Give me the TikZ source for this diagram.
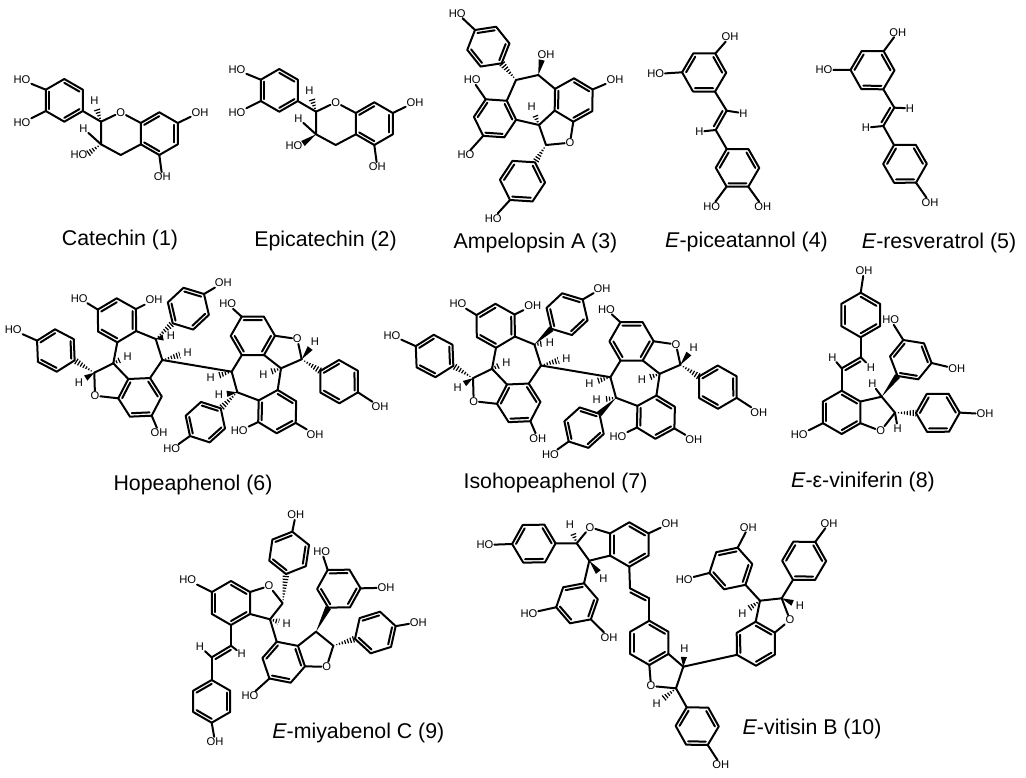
\documentclass[tikz,border=0pt]{standalone}
\usepackage{fontspec}
\setmainfont{Liberation Sans}
\usetikzlibrary{calc}

\tikzset{
    bond/.style={line width=1.5pt, line cap=round, line join=round},
    atom/.style={inner sep=0.5pt, font=\fontsize{8.4}{9}\selectfont},
    molname/.style={inner sep=0pt, yshift=-1pt, font=\fontsize{16}{18}\selectfont}
}

\newcommand{\ringsix}[4]{
    \coordinate (#1v1) at (#2);
    \coordinate (#1v4) at (#3);
    \coordinate (#1c) at ($(#1v1)!.5!(#1v4)$);
    \foreach \k in {2,3,5,6} {
        \pgfmathtruncatemacro{\ang}{(\k-1)*60}
        \coordinate (#1v\k) at ($(#1c)!1!\ang:(#1v1)$);
    }
    \draw[bond] (#1v1) -- (#1v2) -- (#1v3) -- (#1v4) -- (#1v5) -- (#1v6) -- cycle;
    \foreach \e in {#4} {
        \pgfmathtruncatemacro{\nx}{mod(\e,6)+1}
        \draw[bond] ($(#1v\e)!.18!(#1c)$) -- ($(#1v\nx)!.18!(#1c)$);
    }
}
\newcommand{\wedgebond}[2]{
    \fill ($(#2)!2.3pt!90:(#1)$) -- (#1) -- ($(#2)!2.3pt!-90:(#1)$) -- cycle;
}
\newcommand{\hashbond}[2]{
    \begin{scope}
        \clip ($(#2)!2.6pt!90:(#1)$) -- (#1) -- ($(#2)!2.6pt!-90:(#1)$) -- cycle;
        \draw[line width=6pt, dash pattern=on 0.9pt off 1.3pt] (#1) -- (#2);
    \end{scope}
}
\newcommand{\vinyl}[2]{
    \draw[bond] (#1) -- (#2);
    \draw[bond] ($(#1)!.1!(#2)!2.6pt!90:(#2)$) -- ($(#2)!.1!(#1)!2.6pt!-90:(#1)$);
}
\newcommand{\plainlabel}[4]{
    \node[atom] (#1) at (#2) {#3};
    \draw[bond] (#4) -- (#1);
}
\newcommand{\wedgeH}[3]{
    \node[atom] (#1) at (#2) {H};
    \coordinate (#1t) at ($(#1)!6pt!(#3)$);
    \wedgebond{#3}{#1t}
}
\newcommand{\hashH}[3]{
    \node[atom] (#1) at (#2) {H};
    \coordinate (#1t) at ($(#1)!6pt!(#3)$);
    \hashbond{#3}{#1t}
}
\newcommand{\flavanskel}[1]{
    \ringsix{#1a}{64.3,79}{64.3,121.7}{2,4,6}
    \ringsix{#1b}{159.3,112.3}{159.3,155}{1,3,5}
    \coordinate (#1p) at (101,121.7);
    \coordinate (#1q) at (101,144.3);
    \coordinate (#1r) at (120.7,155);
    \node[atom] (#1o) at (120.7,112.3) {O};
    \draw[bond] (#1av5) -- (#1p) -- (#1q) -- (#1r) -- (#1bv3);
    \draw[bond] (#1p) -- (#1o) -- (#1bv2);
    \plainlabel{#1oh1}{22,80}{HO}{#1av2}
    \plainlabel{#1oh2}{22,123}{HO}{#1av3}
    \plainlabel{#1oh3}{200,112.3}{OH}{#1bv6}
    \plainlabel{#1oh4}{162.3,177}{OH}{#1bv4}
    \plainlabel{#1h1}{83.3,128.3}{H}{#1q}
    \hashH{#1h2}{94.3,101}{#1p}
}
\newcommand{\hopeaskel}[1]{
    \ringsix{#1a}{116.7,298.3}{117.3,342.3}{1,3,5}
    \ringsix{#1b}{204,294}{172.7,323.3}{1,3,5}
    \ringsix{#1c}{128.3,379}{151.7,415.7}{1,3,5}
    \ringsix{#1d}{55,329.3}{56.7,371.7}{1,3,5}
    \ringsix{#1e}{241.7,316.7}{264,355}{2,4,6}
    \ringsix{#1f}{339,360}{339.3,403.3}{1,3,5}
    \ringsix{#1g}{277.7,390}{276.7,433.3}{2,4,6}
    \ringsix{#1h}{220.7,408.3}{190,436}{1,3,5}
    \coordinate (#1p) at (155.7,339);
    \coordinate (#1q) at (162.3,360);
    \coordinate (#1r) at (113.3,363.3);
    \coordinate (#1s) at (94.3,372.7);
    \coordinate (#1t) at (231.7,371.7);
    \coordinate (#1u) at (237.3,392.3);
    \coordinate (#1w) at (301.7,359.3);
    \coordinate (#1y) at (281,368.3);
    \node[atom] (#1o1) at (95,395.7) {O};
    \node[atom] (#1o2) at (297.3,339) {O};
    \draw[bond] (#1av5) -- (#1p) -- (#1q) -- (#1cv6);
    \draw[bond] (#1q) -- (#1t) -- (#1u) -- (#1gv2);
    \draw[bond] (#1av4) -- (#1r) -- (#1cv1);
    \draw[bond] (#1r) -- (#1s) -- (#1o1) -- (#1cv2);
    \draw[bond] (#1t) -- (#1ev3);
    \draw[bond] (#1ev4) -- (#1y) -- (#1gv1);
    \draw[bond] (#1y) -- (#1w) -- (#1o2) -- (#1ev5);
    \hashbond{#1s}{#1dv5}
    \hashbond{#1w}{#1fv2}
    \plainlabel{#1oh1}{79.3,298.3}{HO}{#1av2}
    \plainlabel{#1oh2}{154,300}{OH}{#1av6}
    \plainlabel{#1oh3}{223.3,282.7}{OH}{#1bv1}
    \plainlabel{#1oh4}{13.3,330}{HO}{#1dv2}
    \plainlabel{#1oh5}{159,432.7}{OH}{#1cv4}
    \plainlabel{#1oh6}{227.7,304}{HO}{#1ev1}
    \plainlabel{#1oh7}{380,406.7}{OH}{#1fv5}
    \plainlabel{#1oh8}{239.3,431}{HO}{#1gv3}
    \plainlabel{#1oh9}{315,434.3}{OH}{#1gv5}
    \plainlabel{#1oh10}{171.7,449}{HO}{#1hv4}
    \hashH{#1h1}{127.7,356.7}{#1r}
    \hashH{#1h2}{187.7,352.7}{#1q}
    \wedgeH{#1h3}{79,382.3}{#1s}
    \hashH{#1h4}{210.7,377.7}{#1t}
    \wedgeH{#1h5}{315,341.7}{#1w}
    \hashH{#1h6}{263.3,374.3}{#1y}
}

\begin{document}
\begin{tikzpicture}[x=0.75pt, y=-0.75pt]
    \useasboundingbox (0,0) rectangle (1026,778);

    \flavanskel{cat}
    \node[atom] (catoh5) at (79,155) {HO};
    \coordinate (catoh5t) at (87.3,154);
    \hashbond{catq}{catoh5t}
    \node[molname] (catname) at (120,239) {Catechin (1)};

    \begin{scope}[shift={(215,-10)}]
        \flavanskel{epi}
        \node[atom] (epioh5) at (79,155.5) {HO};
        \coordinate (epioh5t) at (88,153.5);
        \wedgebond{epiq}{epioh5t}
    \end{scope}
    \node[molname] (epiname) at (325.5,240) {Epicatechin (2)};

    \ringsix{ampa}{475,30}{501.7,63.3}{2,4,6}
    \ringsix{ampb}{485.7,99.3}{504.3,137.3}{1,3,5}
    \ringsix{ampc}{574,78.3}{573.3,121.7}{2,4,6}
    \ringsix{ampd}{535,162.3}{510,200}{2,4,6}
    \coordinate (ampp) at (516,80);
    \coordinate (ampq) at (538.3,75);
    \coordinate (ampr) at (539,125);
    \coordinate (amps) at (546,145);
    \node[atom] (ampo) at (570,142.7) {O};
    \draw[bond] (ampbv6) -- (ampp) -- (ampq) -- (ampcv2);
    \draw[bond] (ampbv5) -- (ampr) -- (ampcv3);
    \draw[bond] (ampr) -- (amps) -- (ampo) -- (ampcv4);
    \hashbond{ampp}{ampav4}
    \hashbond{amps}{ampdv1}
    \node[atom] (ampoh1) at (546,55) {OH};
    \coordinate (ampoh1t) at (541.7,60);
    \wedgebond{ampq}{ampoh1t}
    \plainlabel{ampoh2}{457.3,13.3}{HO}{ampav1}
    \plainlabel{ampoh3}{472.3,80}{HO}{ampbv1}
    \plainlabel{ampoh4}{466,155}{HO}{ampbv3}
    \plainlabel{ampoh5}{615,80}{OH}{ampcv6}
    \plainlabel{ampoh6}{493.3,218.3}{HO}{ampdv4}
    \hashH{amph1}{531.7,106.7}{ampr}
    \node[molname] (ampname) at (535.5,241.7) {Ampelopsin A (3)};

    \ringsix{pica}{693.3,53.3}{715,91.7}{1,3,5}
    \ringsix{picb}{726.7,149}{748.3,186.7}{1,3,5}
    \coordinate (picp) at (726.7,110.7);
    \coordinate (picq) at (715.7,130);
    \draw[bond] (picav4) -- (picp);
    \vinyl{picq}{picp}
    \draw[bond] (picq) -- (picbv1);
    \plainlabel{picoh1}{730,36.7}{OH}{picav6}
    \plainlabel{picoh2}{655.7,74}{HO}{picav2}
    \plainlabel{picoh3}{711.7,206.7}{HO}{picbv3}
    \plainlabel{picoh4}{762.7,206.7}{OH}{picbv4}
    \plainlabel{pich1}{743.3,113.3}{H}{picp}
    \plainlabel{pich2}{699.3,131.7}{H}{picq}
    \node[molname] (picname) at (746.5,241) {\textit{E}-piceatannol (4)};

    \ringsix{resa}{861.7,51}{883.3,89.3}{1,3,5}
    \ringsix{resb}{894,145}{916,182.7}{1,3,5}
    \coordinate (resp) at (894.3,107.7);
    \coordinate (resq) at (883.3,126);
    \draw[bond] (resav4) -- (resp);
    \vinyl{resq}{resp}
    \draw[bond] (resq) -- (resbv1);
    \plainlabel{resoh1}{897.7,32.3}{OH}{resav6}
    \plainlabel{resoh2}{824,70}{HO}{resav2}
    \plainlabel{resoh3}{930,202.7}{OH}{resbv4}
    \plainlabel{resh1}{910,108.3}{H}{resp}
    \plainlabel{resh2}{866,127.7}{H}{resq}
    \node[molname] (resname) at (939,242) {\textit{E}-resveratrol (5)};

    \hopeaskel{hop}
    \hashbond{hopp}{hopbv4}
    \wedgeH{hoph7}{171,336}{hopp}
    \hashbond{hopu}{hophv1}
    \wedgeH{hoph8}{219,395}{hopu}
    \node[molname] (hopname) at (193,484) {Hopeaphenol (6)};

    \begin{scope}[shift={(378.7,5.5)}]
        \hopeaskel{iso}
        \wedgebond{isop}{isobv4}
        \hashH{isoh7}{171.3,337.2}{isop}
        \wedgebond{isou}{isohv1}
        \hashH{isoh8}{218,394.5}{isou}
    \end{scope}
    \node[molname] (isoname) at (555.5,481.7) {Isohopeaphenol (7)};

    \ringsix{vina}{860.7,292.7}{860.7,337.3}{2,4,6}
    \ringsix{vinb}{841.7,390.7}{841.7,434}{2,4,6}
    \ringsix{vinc}{926.7,394}{949,431.7}{1,3,5}
    \ringsix{vind}{903.3,340}{918.3,379.3}{1,3,5}
    \coordinate (vinp) at (860.7,357.3);
    \coordinate (vinq) at (841.7,368.3);
    \coordinate (vinr) at (881.7,396.7);
    \coordinate (vins) at (895,412.7);
    \node[atom] (vino) at (880.7,431) {O};
    \draw[bond] (vinav4) -- (vinp);
    \vinyl{vinp}{vinq}
    \draw[bond] (vinq) -- (vinbv1);
    \draw[bond] (vinbv6) -- (vinr) -- (vins) -- (vino) -- (vinbv5);
    \wedgebond{vinr}{vindv3}
    \hashbond{vins}{vincv2}
    \plainlabel{vinoh1}{864,271}{OH}{vinav1}
    \plainlabel{vinoh2}{799.3,435}{HO}{vinbv3}
    \plainlabel{vinoh3}{985,414}{OH}{vincv5}
    \plainlabel{vinoh4}{890.7,320}{HO}{vindv1}
    \plainlabel{vinoh5}{956.7,369}{OH}{vindv5}
    \plainlabel{vinh1}{832.3,357.3}{H}{vinq}
    \plainlabel{vinh2}{871,367.3}{H}{vinp}
    \plainlabel{vinh3}{872.3,384}{H}{vinr}
    \plainlabel{vinh4}{897.7,428.3}{H}{vins}
    \node[molname] (vinname) at (863,480.7) {\textit{E}-ε-viniferin (8)};

    \ringsix{miya}{292.3,531.7}{286,574}{1,3,5}
    \ringsix{miyb}{231,581}{231,625}{2,4,6}
    \ringsix{miyc}{211.7,680}{211.7,722.7}{1,3,5}
    \ringsix{miyd}{276.7,641.7}{290.7,682.7}{1,3,5}
    \ringsix{miye}{327.7,570}{350,607.3}{2,4,6}
    \ringsix{miyf}{380,611.7}{370.7,653.3}{1,3,5}
    \coordinate (miyp) at (282.7,603.3);
    \coordinate (miyq) at (270,619.3);
    \coordinate (miyr) at (231,645.7);
    \coordinate (miys) at (211.7,657.3);
    \coordinate (miyt) at (316,631.7);
    \coordinate (miyu) at (333.3,645.7);
    \node[atom] (miyo1) at (269,586) {O};
    \node[atom] (miyo2) at (326.7,666.7) {O};
    \draw[bond] (miybv6) -- (miyo1) -- (miyp) -- (miyq) -- (miybv5);
    \draw[bond] (miyq) -- (miydv1);
    \draw[bond] (miybv4) -- (miyr);
    \vinyl{miyr}{miys}
    \draw[bond] (miys) -- (miycv1);
    \draw[bond] (miydv6) -- (miyt) -- (miyu) -- (miyo2) -- (miydv5);
    \hashbond{miyp}{miyav4}
    \wedgebond{miyt}{miyev3}
    \hashbond{miyu}{miyfv3}
    \plainlabel{miyoh1}{295.7,515}{OH}{miyav1}
    \plainlabel{miyoh2}{187.7,580}{HO}{miybv2}
    \plainlabel{miyoh3}{215,741.7}{OH}{miycv4}
    \plainlabel{miyoh4}{250,696}{HO}{miydv3}
    \plainlabel{miyoh5}{321.7,551.7}{HO}{miyev1}
    \plainlabel{miyoh6}{386,587.7}{OH}{miyev5}
    \plainlabel{miyoh7}{418.3,622.3}{OH}{miyfv6}
    \hashH{miyh1}{286.7,624}{miyq}
    \plainlabel{miyh2}{200,646.7}{H}{miys}
    \plainlabel{miyh3}{241.7,654}{H}{miyr}
    \node[molname] (miyname) at (358.3,731.7) {\textit{E}-miyabenol C (9)};

    \ringsix{vita}{522.7,525}{545,562.3}{1,3,5}
    \ringsix{vitb}{629.3,522.3}{629.3,566.7}{2,4,6}
    \ringsix{vitc}{649.3,620.7}{649.3,665}{2,4,6}
    \ringsix{vitd}{686.7,707.3}{707.7,745}{1,3,5}
    \ringsix{vite}{755.7,621.7}{756,665.7}{2,4,6}
    \ringsix{vitf}{737.7,547.7}{724,589.3}{1,3,5}
    \ringsix{vitg}{793.3,541.7}{815,580}{1,3,5}
    \ringsix{vith}{584,583.3}{570,623.3}{1,3,5}
    \coordinate (vitp) at (576.7,543.3);
    \coordinate (vitq) at (589.3,560.7);
    \coordinate (vitr) at (630,588.3);
    \coordinate (vits) at (649.3,598.3);
    \coordinate (vitt) at (683.3,666.7);
    \coordinate (vitu) at (676,688.3);
    \coordinate (vitw) at (760,600.7);
    \coordinate (vity) at (781.7,598.3);
    \node[atom] (vito1) at (590,527.3) {O};
    \node[atom] (vito2) at (651,686) {O};
    \node[atom] (vito3) at (790,620) {O};
    \draw[bond] (vitav5) -- (vitp) -- (vito1) -- (vitbv2);
    \draw[bond] (vitp) -- (vitq) -- (vitbv3);
    \draw[bond] (vitq) -- (vithv1);
    \draw[bond] (vitbv4) -- (vitr);
    \vinyl{vits}{vitr}
    \draw[bond] (vits) -- (vitcv1);
    \draw[bond] (vitcv5) -- (vitt) -- (vitu) -- (vito2) -- (vitcv4);
    \draw[bond] (vitu) -- (vitdv1);
    \draw[bond] (vitt) -- (vitev3);
    \draw[bond] (vitev1) -- (vitw) -- (vity) -- (vito3) -- (vitev6);
    \draw[bond] (vitw) -- (vitfv5);
    \draw[bond] (vity) -- (vitgv3);
    \plainlabel{vitoh1}{485,545}{HO}{vitav2}
    \plainlabel{vitoh2}{670,523.3}{OH}{vitbv6}
    \plainlabel{vitoh3}{720.7,765}{OH}{vitdv4}
    \plainlabel{vitoh4}{748.3,527.3}{OH}{vitfv1}
    \plainlabel{vitoh5}{684.3,579.3}{HO}{vitfv3}
    \plainlabel{vitoh6}{829,523.3}{OH}{vitgv6}
    \plainlabel{vitoh7}{529,613.3}{HO}{vithv3}
    \plainlabel{vitoh8}{609,637.3}{OH}{vithv5}
    \hashH{vith1}{570,525}{vitp}
    \wedgeH{vith2}{603.3,578.3}{vitq}
    \wedgeH{vith3}{684.3,649}{vitt}
    \hashH{vith4}{656.7,704}{vitu}
    \wedgeH{vith5}{800,606}{vity}
    \hashH{vith6}{742.3,613.3}{vitw}
    \node[molname] (vitname) at (812,728) {\textit{E}-vitisin B (10)};
\end{tikzpicture}
\end{document}
